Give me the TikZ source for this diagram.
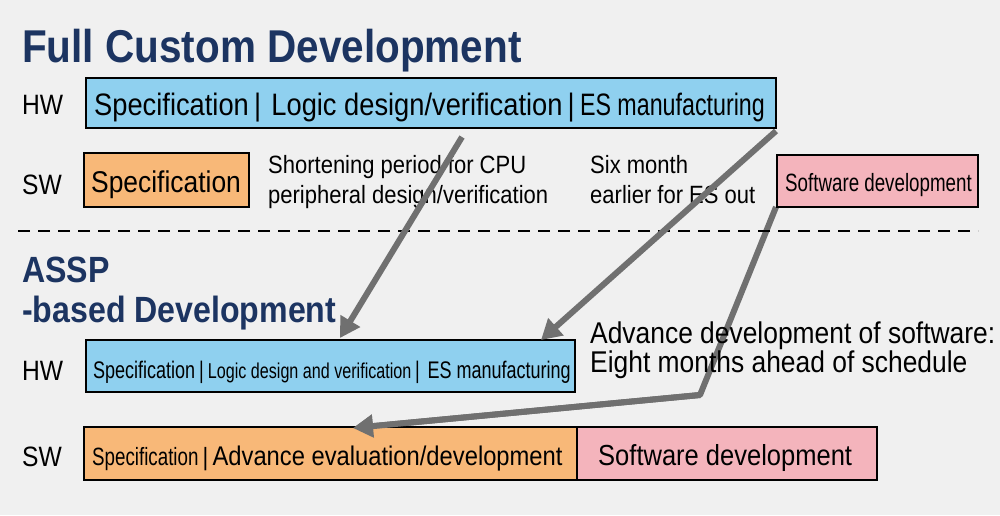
\documentclass[tikz,border=0pt]{standalone}
\usepackage{fontspec}
\setmainfont{Liberation Sans}
\newfontfamily\nrw[FakeStretch=0.88]{Liberation Sans}
\newfontfamily\nrww[FakeStretch=0.75]{Liberation Sans}
\usetikzlibrary{arrows.meta}
\definecolor{bg}{HTML}{F0F0F0}
\definecolor{navy}{HTML}{1C3461}
\definecolor{hwb}{HTML}{8FD0EF}
\definecolor{swo}{HTML}{F8B878}
\definecolor{pk}{HTML}{F4B4BC}
\definecolor{ar}{HTML}{707070}
\tikzset{box/.style={draw=black,line width=1.5pt,inner sep=0pt},
 lbl/.style={anchor=base west,inner sep=0pt,font=\fontsize{28}{28}\selectfont\nrw},
 ttl/.style={anchor=base west,inner sep=0pt,text=navy,font=\fontsize{46}{46}\selectfont\bfseries\nrw},
 ttlb/.style={ttl,font=\fontsize{36.5}{36.5}\selectfont\bfseries\nrw},
 txt/.style={anchor=base west,inner sep=0pt,font=\fontsize{25}{25}\selectfont\nrw},
 arr/.style={draw=ar,line width=6pt,-{Triangle[length=20pt,width=22pt]}}}
\begin{document}
\begin{tikzpicture}[x=1pt,y=-1pt]
\fill[bg] (0,0) rectangle (1000,515);
\useasboundingbox (0,0) rectangle (1000,515);
\coordinate (p1) at (462,137);
\coordinate (q1) at (340,338);
\coordinate (p2) at (776,131);
\coordinate (q2) at (541,340);
\coordinate (p3) at (776,207);
\coordinate (m3) at (700,395);
\coordinate (q3) at (353,428);
\draw[arr,line join=round] (p3) -- (m3) -- (q3);
\node[ttl] (t1) at (22,62) {Full Custom Development};
\node[ttlb] (t2) at (22,282) {ASSP};
\node[ttlb] (t3) at (22,322) {-based Development};
\node[lbl] (h1) at (22,114) {HW};
\node[lbl] (s1) at (22,194) {SW};
\node[lbl] (h2) at (22,380) {HW};
\node[lbl] (s2) at (22,466) {SW};
% top HW
\path[box,fill=hwb] (86,78) rectangle (776,128);
\node[lbl,font=\fontsize{31}{31}\selectfont\nrw] (a1) at (94,115) {Specification\,|\,\,Logic design/verification\,|\,\nrww ES manufacturing};
% top SW
\path[box,fill=swo] (84,153) rectangle (249,207);
\node[lbl,font=\fontsize{30}{30}\selectfont\nrw] (a2) at (91,192) {Specification};
\path[box,fill=pk] (777,155) rectangle (978,207);
\node[txt,font=\fontsize{25}{25}\selectfont\nrww] (a3) at (785,191) {Software development};
\node[txt] (c1) at (268,173) {Shortening period for CPU};
\node[txt] (c2) at (268,203) {peripheral design/verification};
\node[txt] (c3) at (590,173) {Six month};
\node[txt] (c4) at (590,203) {earlier for ES out};
\draw[line width=1.5pt,dash pattern=on 12pt off 8pt] (18,231) -- (978,231);
% bottom HW
\path[box,fill=hwb] (86,340) rectangle (575,392);
\draw[arr] (p1) -- (q1);
\draw[arr] (p2) -- (q2);
\node[txt,font=\fontsize{24}{24}\selectfont\nrww] (b1) at (93,378) {Specification\,|\,\fontsize{21.5}{21.5}\selectfont Logic design and verification\,\fontsize{24}{24}\selectfont|\,\,ES manufacturing};
\node[txt,font=\fontsize{30}{30}\selectfont\nrw] (d1) at (590,343) {Advance development of software:};
\node[txt,font=\fontsize{30}{30}\selectfont\nrw] (d2) at (590,372) {Eight months ahead of schedule};
% bottom SW
\path[box,fill=swo] (84,427) rectangle (577,480);
\path[box,fill=pk] (577,427) rectangle (877,480);
\draw[arr] (m3) -- (q3);
\node[txt,font=\fontsize{25}{25}\selectfont\nrww] (e1) at (92,465) {Specification\,\nrw|\,\fontsize{27}{27}\selectfont Advance evaluation/development};
\node[txt,font=\fontsize{29}{29}\selectfont\nrw] (e2) at (598,465) {Software development};
\end{tikzpicture}
\end{document}
